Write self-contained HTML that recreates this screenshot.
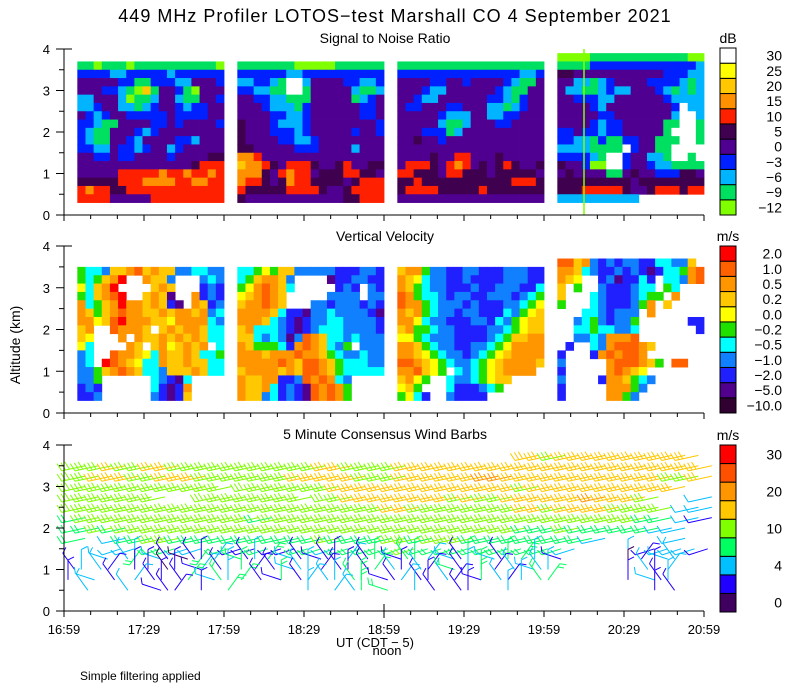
<!DOCTYPE html>
<html><head><meta charset="utf-8">
<style>
html,body{margin:0;padding:0;background:#fff;}
svg{display:block;font-family:"Liberation Sans",sans-serif;}
</style></head>
<body>
<svg id="chart" width="800" height="700" viewBox="0 0 800 700" xmlns="http://www.w3.org/2000/svg">
<rect width="800" height="700" fill="#fff"/>
<text x="395" y="22" font-size="18" text-anchor="middle" letter-spacing="1">449 MHz Profiler LOTOS−test Marshall CO  4 September 2021</text>
<text x="385" y="43" font-size="14" text-anchor="middle">Signal to Noise Ratio</text>
<text x="385" y="241" font-size="14" text-anchor="middle">Vertical Velocity</text>
<text x="385" y="439" font-size="14" text-anchor="middle">5 Minute Consensus Wind Barbs</text>
<text transform="translate(20,345) rotate(-90)" font-size="14" text-anchor="middle">Altitude (km)</text>
<text x="375" y="647" font-size="13" text-anchor="middle">UT  (CDT − 5)</text>
<text x="387" y="655" font-size="13" text-anchor="middle">noon</text>
<text x="80" y="680" font-size="12">Simple filtering applied</text>
<g id="snr"></g><g id="vv"></g><g id="wind"></g><g id="axes"></g><g id="bars"></g>
</svg>
<script>
// ---------- data ----------
const snrLevels = ["-12","-9","-6","-3","0","5","10","15","20","25","30"];
const snrColors = ["#80ff00","#00e060","#00b4ff","#0020ff","#500090","#400050","#ff2000","#ff9000","#ffc800","#ffff00","#ffffff"];
const vvLevels = ["-10.0","-5.0","-2.0","-1.0","-0.5","-0.2","0.0","0.2","0.5","1.0","2.0"];
const vvColors = ["#300030","#50008c","#2020ff","#1080ff","#00ffff","#20e000","#ffff00","#ffc800","#ff9600","#ff6000","#ff0000"];
const windLabels = ["0","4","10","20","30"];
const windLabelBins = [0,2,4,6,8];
const windColors = ["#400060","#2000ff","#00c0ff","#00ff60","#80ff00","#ffc800","#ff9600","#ff5000","#ff0000"];
const timeTicks = ["16:59","17:29","17:59","18:29","18:59","19:29","19:59","20:29","20:59"];
const blockStarts = [5,65,125,185];
const blockDur = 55;
const snrBlock1 = ["110111011111111110","333322333332333333","444443311333224443","444332108144310444","224442011244211443","223442212344323344","432344333334333344","332114444334344443","321144432344444444","321144324444332444","332243323442344444","443343344443444455","444444444444445666","444446666676676676","555556667777667766","676655666666666666","666644444666666666"];
const snrBlock2 = ["111111100000111111","333333223333333333","223321AA2444433223","332211AA1444442112","443322111444441234","444322213444444334","444433223444444334","544432223444444443","544433323444443443","544443322344444444","554444433344442444","776444444444444444","877654666544564455","777546766455566554","766545766555545666","655555666654456666","544444444444455666"];
const snrBlock3 = ["111111111111111111","333333333333333223","444433443444432114","444322444444321144","443224444443321344","433444334442212344","444443222442233444","444442112444334444","444333124444444444","445443444444444444","444444444444444444","444454466444544444","466654676454565445","665554665554555554","556555555555556665","566665555565555555","444444444444444444"];
const snrBlock4 = ["000011111111111100","111133333333333332","554444444444433322","442212344443333212","422112322444321212","443332244444432222","444432444444443A22","444443344444442AA2","444432334444411AA1","33433233444441AAA1","332213113344111AA1","22221111A34411AAAA","333321AA344221AA1A","544300AA3443221111","454444114544333554","555555555455555555","555666665445666566","2222222222........"];
const vvBlock1 = ["544377897877334433","54578A..8773...343","6478A....787...232","54789A..7871..8232","84578A8878721.8723","875789887787887834","88679A888776888843","78..98887.78788744","76...8.87787878744","64....87.7867878.4","34..98876487787445","34.A98764487787744","335789874437778744","335......43214....","232......42128....","223......32127...."];
const vvBlock2 = ["445657733333222332","4578873....1223322","5689874.....232.32","678987.....3333.33","788987...332333232","888874221334333321","888743212334433332","784443212344433332","774343139874434333","87555428987435.333","888788898875433433","888889879987544433","788887879987544444","87788223989843....","87784232198985....","87734232198985...."];
const vvBlock3 = ["788533223322233322","876433223222233322","875433222322333224","985443233223332345","988543332322233456","878543323322243567","886433222332435677","785543322223345677","665433322223457788","887543322334568888","887654332345678888","998765433456788887","889765.4345678888.","7865..43345677....","675...4222345.....","5642..32222......."];
const vvBlock4 = ["99783232332244337.","887432232321244589","876..2312242.44389","7.5..3222344.54...","7...432223455.8...","5...43222358.7....","...4432333.8......","..34532335......22","..44544334.......2","..33438889........",".2..43899987......","2...2898998.......","3.....8999875.99..","2.....89876.......","3....2887543......","2.....88853.......","2.....8853........"];
const windHeights = [3.75,3.5,3.25,3.0,2.75,2.5,2.25,2.0,1.75,1.5,1.25,1.0,0.75,0.5];
// direction codes: digit d -> d*36 degrees
const windDirCodes = [
"777777777777777777777777777777777777777777777777",
"777777777777777777777777777777777777777777777777",
"777777777777777777777777777777777777777777777777",
"777777777777777777777777777777777777777777777777",
"777777777777777777777777777777777777777777777777",
"777777777777777777777777777777777777777777777777",
"777777777777777777777777777777777777777777777777",
"777777777777777777777777777777777777777777777777",
"777777777777777777777777777777777777777777777777",
"777776777767777777777777777777777777777777777777",
"898090898901890189890190890189089010890189018901",
"909190090819001989019091909189001989019819090198",
"080901909189019809190908919091809109189019089019",
"090190891909180919091908910989019091898909190919"];
const windSpeeds = [
"..................................5545555555555.",
"444544554444444444455444455555555555555555555555",
"445554455544444445555544455555566555555555555445",
"444444444444.444444455555555555555455555555555..",
"4444444...44444444.4455555555454455555565554...2",
"444444444444444444444444554444444455455554444.22",
"344444444444443444444444444444444444444444433.21",
"3343444444444444444444444444444444333433333322..",
"3..2334433333333333433334434443333333332.....2..",
"...22333223311311332333334333333333332.....12221",
"..2.222101123123211112131332213213321.....2122..",
"1221.11011212311222111132121312312222.....0212..",
"12.1.21113232311312223311211211321233.....1212..",
".2..2.111.1.3.....2.2233..21.11..2..........11.."];

// ---------- scales ----------
const X0=64, X1=704, TOTAL=240;
const panels=[{top:49,bot:215},{top:246,bot:413},{top:445,bot:611}];
function xs(min){return X0+(X1-X0)*min/TOTAL;}
function ys(p,km){return panels[p].bot-(panels[p].bot-panels[p].top)*km/4;}
const NS="http://www.w3.org/2000/svg";
function mk(tag,attrs,parent){const e=document.createElementNS(NS,tag);for(const k in attrs)e.setAttribute(k,attrs[k]);parent.appendChild(e);return e;}
function code(c){return c==='A'?10:parseInt(c,10);}

function drawGrid(gid,p,blocks,colors,name){
  const g=document.getElementById(gid);
  blocks.forEach((rows,bi)=>{
    const n=rows.length, cols=rows[0].length;
    const t0=blockStarts[bi], dt=blockDur/cols;
    rows.forEach((row,ri)=>{
      const kmBot=0.3+0.2*(n-1-ri), kmTop=kmBot+0.2;
      for(let ci=0;ci<cols;ci++){
        const c=row[ci]; if(!c||c==='.')continue;
        const r=mk('rect',{x:xs(t0+ci*dt).toFixed(2),y:ys(p,kmTop).toFixed(2),width:(xs(t0+(ci+1)*dt)-xs(t0+ci*dt)+0.4).toFixed(2),height:(ys(p,kmBot)-ys(p,kmTop)+0.4).toFixed(2),fill:colors[code(c)]},g);
        
        
      }
    });
  });
}
drawGrid('snr',0,[snrBlock1,snrBlock2,snrBlock3,snrBlock4],snrColors,'snr');
drawGrid('vv',1,[vvBlock1,vvBlock2,vvBlock3,vvBlock4],vvColors,'vv');
const vl=mk('line',{x1:xs(195),x2:xs(195),y1:49,y2:215,stroke:"#80ff00","stroke-width":1.5},document.getElementById('snr'));



// wind barbs
const wg=document.getElementById('wind');
windSpeeds.forEach((row,ri)=>{
  const km=windHeights[ri];
  for(let ci=0;ci<row.length;ci++){
    const c=row[ci]; if(c==='.')continue;
    const s=code(c);
    const dir=code(windDirCodes[ri][ci])*36*Math.PI/180+ (ri<9?0.1:0);
    const L=ri<9?24:20;
    const dx=Math.sin(dir)*L, dy=-Math.cos(dir)*L;
    const bx=xs(ci*5)+(dx<0?-dx*0.9:4), by=ys(2,km);
    const ex=bx+dx, ey=by+dy;
    let d=`M${bx.toFixed(1)} ${by.toFixed(1)}L${ex.toFixed(1)} ${ey.toFixed(1)}`;
    const nf=Math.max(1,Math.min(3,Math.round(s/1.6)));
    const ux=dx/L, uy=dy/L, px=-uy, py=ux;
    const fl=ri<9?8:6;
    for(let f=0;f<nf;f++){
      const fx=ex-ux*f*4, fy=ey-uy*f*4;
      d+=`M${fx.toFixed(1)} ${fy.toFixed(1)}l${(px*fl+ux*3).toFixed(1)} ${(py*fl+uy*3).toFixed(1)}`;
    }
    const b=mk('path',{d:d,stroke:windColors[s],fill:"none","stroke-width":1},wg);
    
    
  }
});

// axes
const ag=document.getElementById('axes');
panels.forEach((pp,pi)=>{
  mk('line',{x1:X0,x2:X0,y1:pp.top,y2:pp.bot,stroke:"#000"},ag);
  mk('line',{x1:X0,x2:X1,y1:pp.bot,y2:pp.bot,stroke:"#000"},ag);
  mk('line',{x1:X0,x2:X0+8,y1:pp.top,y2:pp.top,stroke:"#000"},ag);
  for(let k=0;k<=8;k++){
    const km=k/2,y=ys(pi,km);
    mk('line',{x1:X0-(k%2?5:8),x2:X0,y1:y,y2:y,stroke:"#000"},ag);
    if(k%2===0){const t=mk('text',{x:X0-14,y:y+5,"font-size":13,"text-anchor":"end"},ag);t.textContent=String(km);
      
      }
  }
  for(let m=0;m<=TOTAL;m+=10){
    const x=xs(m);
    mk('line',{x1:x,x2:x,y1:pp.bot,y2:pp.bot+(m%30===0?6:4),stroke:"#000"},ag);
  }
});
mk('line',{x1:xs(120),x2:xs(120),y1:604,y2:618,stroke:"#000"},ag);
timeTicks.forEach((lab,i)=>{
  const t=mk('text',{x:xs(i*30),y:634,"font-size":13,"text-anchor":"middle"},ag);
  t.textContent=lab;
  
  
});

// colorbars
const bg=document.getElementById('bars');
function colorbar(top,bot,colors,labels,labelIdx,unit,name){
  const n=colors.length,h=(bot-top)/n;
  const u=mk('text',{x:728,y:top-5,"font-size":14,"text-anchor":"middle"},bg);u.textContent=unit;
  
  
  for(let i=0;i<n;i++){
    const r=mk('rect',{x:720,y:(bot-(i+1)*h).toFixed(2),width:16,height:h.toFixed(2),fill:colors[i],stroke:"#000","stroke-width":1},bg);
    
    
  }
  labels.forEach((lab,j)=>{
    const i=labelIdx?labelIdx[j]:j;
    const t=mk('text',{x:782,y:(bot-(i+0.5)*h+5).toFixed(1),"font-size":14,"text-anchor":"end"},bg);
    t.textContent=lab.replace('-','−');
    
    
  });
}
colorbar(48,215,snrColors,snrLevels,null,"dB","snr-colorbar");
colorbar(246,413,vvColors,vvLevels,null,"m/s","vv-colorbar");
colorbar(445,612,windColors,windLabels,windLabelBins,"m/s","wind-colorbar");
</script>
</body></html>
